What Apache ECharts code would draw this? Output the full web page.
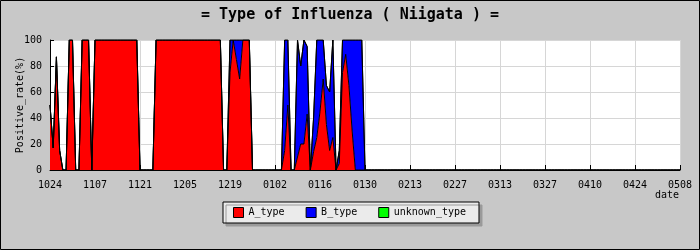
<!DOCTYPE html>
<html><head><meta charset="utf-8">
<script src="https://cdn.jsdelivr.net/npm/echarts@6/dist/echarts.min.js"></script>
<style>html,body{margin:0;padding:0;background:#c8c8c8}#c{width:700px;height:250px}</style>
</head><body><div id="c"></div>
<script>
const tickLabels = ['1024','1107','1121','1205','1219','0102','0116','0130','0213','0227','0313','0327','0410','0424','0508'];
const startYear = 2012, startMonth = 10, startDay = 24, dayCount = 197;

const A_type = [
  50,17,87,15,0,0,100,100,0,0,
  100,100,100,0,100,100,100,100,100,100,
  100,100,100,100,100,100,100,100,0,0,
  0,0,0,100,100,100,100,100,100,100,
  100,100,100,100,100,100,100,100,100,100,
  100,100,100,100,0,0,75,100,85,70,
  100,100,100,0,0,0,0,0,0,0,
  0,0,0,15,50,0,0,10,20,20,
  43,0,14,25,45,70,35,15,25,0,
  5,75,89,65,30,0,0,0,0,0,
  0,0,0,0,0,0,0,0,0,0,
  0,0,0,0,0,0,0,0,0,0,
  0,0,0,0,0,0,0,0,0,0,
  0,0,0,0,0,0,0,0,0,0,
  0,0,0,0,0,0,0,0,0,0,
  0,0,0,0,0,0,0,0,0,0,
  0,0,0,0,0,0,0,0,0,0,
  0,0,0,0,0,0,0,0,0,0,
  0,0,0,0,0,0,0,0,0,0,
  0,0,0,0,0,0,0
];
const B_type = [
  0,0,0,0,0,0,0,0,0,0,
  0,0,0,0,0,0,0,0,0,0,
  0,0,0,0,0,0,0,0,0,0,
  0,0,0,0,0,0,0,0,0,0,
  0,0,0,0,0,0,0,0,0,0,
  0,0,0,0,0,0,25,0,15,30,
  0,0,0,0,0,0,0,0,0,0,
  0,0,0,85,50,0,0,90,60,80,
  52,0,26,75,55,30,30,45,75,0,
  10,25,11,35,70,100,100,100,0,0,
  0,0,0,0,0,0,0,0,0,0,
  0,0,0,0,0,0,0,0,0,0,
  0,0,0,0,0,0,0,0,0,0,
  0,0,0,0,0,0,0,0,0,0,
  0,0,0,0,0,0,0,0,0,0,
  0,0,0,0,0,0,0,0,0,0,
  0,0,0,0,0,0,0,0,0,0,
  0,0,0,0,0,0,0,0,0,0,
  0,0,0,0,0,0,0,0,0,0,
  0,0,0,0,0,0,0
];
const unknown_type = [
  0,0,0,0,0,0,0,0,0,0,
  0,0,0,0,0,0,0,0,0,0,
  0,0,0,0,0,0,0,0,0,0,
  0,0,0,0,0,0,0,0,0,0,
  0,0,0,0,0,0,0,0,0,0,
  0,0,0,0,0,0,0,0,0,0,
  0,0,0,0,0,0,0,0,0,0,
  0,0,0,0,0,0,0,0,0,0,
  0,0,0,0,0,0,0,0,0,0,
  0,0,0,0,0,0,0,0,0,0,
  0,0,0,0,0,0,0,0,0,0,
  0,0,0,0,0,0,0,0,0,0,
  0,0,0,0,0,0,0,0,0,0,
  0,0,0,0,0,0,0,0,0,0,
  0,0,0,0,0,0,0,0,0,0,
  0,0,0,0,0,0,0,0,0,0,
  0,0,0,0,0,0,0,0,0,0,
  0,0,0,0,0,0,0,0,0,0,
  0,0,0,0,0,0,0,0,0,0,
  0,0,0,0,0,0,0
];

const categories = [];
for (let i = 0; i < dayCount; i++) {
  const d = new Date(Date.UTC(startYear, startMonth - 1, startDay + i));
  categories.push(String(d.getUTCMonth() + 1).padStart(2, '0') + String(d.getUTCDate()).padStart(2, '0'));
}

const FONT = '"DejaVu Sans Mono", monospace';
const mk = (name, data, color) => ({
  name: name, type: 'line', stack: 'total', data: data,
  showSymbol: false, symbol: 'none',
  lineStyle: { color: '#000', width: 1 },
  itemStyle: { color: color },
  areaStyle: { color: color, opacity: 1 },
  emphasis: { disabled: true }
});

const chart = echarts.init(document.getElementById('c'), null, { renderer: 'canvas' });
chart.setOption({
  backgroundColor: '#c8c8c8',
  animation: false,
  title: {
    text: '= Type of Influenza ( Niigata ) =', left: 'center', top: 3,
    textStyle: { fontFamily: FONT, fontSize: 15, fontWeight: 'bold', color: '#000' }
  },
  legend: {
    left: 223, top: 202, padding: [5, 13, 5, 10], itemGap: 21,
    itemWidth: 10, itemHeight: 10, icon: 'rect',
    backgroundColor: '#ebebeb', borderColor: '#000', borderWidth: 1,
    shadowColor: '#9a9a9a', shadowOffsetX: 3, shadowOffsetY: 3, shadowBlur: 0,
    textStyle: { fontFamily: FONT, fontSize: 10, color: '#000' },
    itemStyle: { borderColor: '#000', borderWidth: 1 },
    data: ['A_type', 'B_type', 'unknown_type']
  },
  grid: { left: 50, right: 20, top: 40, bottom: 80, outerBoundsMode: 'none', containLabel: false,
    show: true, backgroundColor: '#ffffff', borderWidth: 0 },
  xAxis: {
    type: 'category', data: categories, boundaryGap: false,
    axisLine: { lineStyle: { color: '#000', width: 1 } },
    axisTick: { inside: true, interval: 13, length: 5, lineStyle: { color: '#000' } },
    axisLabel: { interval: 13, margin: 10, fontFamily: FONT, fontSize: 10, color: '#000',
      formatter: function (v, i) { return i % 14 === 0 ? tickLabels[i / 14] : v; } },
    splitLine: { show: true, interval: 13, lineStyle: { color: '#d6d6d6' } }
  },
  yAxis: {
    type: 'value', min: 0, max: 100, interval: 20,
    name: 'Positive_rate(%)', nameLocation: 'middle', nameGap: 25, nameMoveOverlap: false,
    nameTextStyle: { fontFamily: FONT, fontSize: 10, color: '#000' },
    axisLine: { show: true, lineStyle: { color: '#000', width: 1 } },
    axisTick: { show: true, inside: true, length: 4, lineStyle: { color: '#000' } },
    axisLabel: { margin: 8, fontFamily: FONT, fontSize: 10, color: '#000' },
    splitLine: { show: true, lineStyle: { color: '#d6d6d6' } }
  },
  graphic: [
    { type: 'text', x: 679, y: 190, style: { text: 'date', align: 'right', textAlign: 'right', verticalAlign: 'top', textVerticalAlign: 'top', font: '10px "DejaVu Sans Mono", monospace', fill: '#000' } },
    { type: 'rect', shape: { x: 0.5, y: 0.5, width: 699, height: 249 }, style: { fill: 'none', stroke: '#000', lineWidth: 1 }, silent: true }
  ],
  series: [
    mk('A_type', A_type, '#ff0000'),
    mk('B_type', B_type, '#0000ff'),
    mk('unknown_type', unknown_type, '#00ff00')
  ]
});
</script>
</body></html>
